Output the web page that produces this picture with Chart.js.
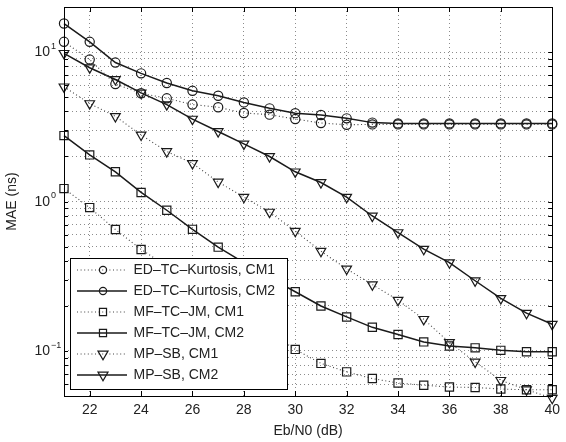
<!DOCTYPE html>
<html>
<head>
<meta charset="utf-8">
<script src="https://cdn.jsdelivr.net/npm/chart.js@4.4.0/dist/chart.umd.min.js"></script>
<style>
  html, body { margin: 0; padding: 0; background: #fff; }
  #wrap { width: 566px; height: 442px; }
</style>
</head>
<body>
<div id="wrap"><canvas id="chart" width="566" height="442"></canvas></div>
<script>
// Eb/N0 (dB)
const ebn0 = [21, 22, 23, 24, 25, 26, 27, 28, 29, 30, 31, 32, 33, 34, 35, 36, 37, 38, 39, 40];

// MAE (ns)
const edCM1 = [11.7, 8.9, 6.1, 5.3, 4.9, 4.45, 4.27, 3.91, 3.81, 3.56, 3.35, 3.26, 3.28, 3.28, 3.28, 3.28, 3.28, 3.28, 3.28, 3.28];
const edCM2 = [15.5, 11.7, 8.5, 7.2, 6.2, 5.5, 5.1, 4.6, 4.2, 3.9, 3.79, 3.6, 3.37, 3.33, 3.33, 3.33, 3.33, 3.33, 3.33, 3.33];
const mfCM1 = [1.22, 0.91, 0.65, 0.478, 0.37, 0.29, 0.225, 0.172, 0.133, 0.1025, 0.0826, 0.0725, 0.0654, 0.0611, 0.059, 0.0574, 0.057, 0.0557, 0.055, 0.055];
const mfCM2 = [2.76, 2.05, 1.58, 1.15, 0.874, 0.651, 0.495, 0.39, 0.31, 0.249, 0.2, 0.169, 0.144, 0.129, 0.115, 0.108, 0.105, 0.101, 0.0988, 0.0988];
const mpCM1 = [5.85, 4.52, 3.71, 2.79, 2.16, 1.8, 1.35, 1.07, 0.85, 0.634, 0.465, 0.354, 0.278, 0.219, 0.163, 0.114, 0.0846, 0.0637, 0.0551, 0.0484];
const mpCM2 = [9.8, 7.85, 6.55, 5.33, 4.45, 3.56, 2.94, 2.43, 2.0, 1.58, 1.34, 1.07, 0.8, 0.62, 0.48, 0.39, 0.295, 0.225, 0.179, 0.151];

const seriesNames = ['ED–TC–Kurtosis, CM1', 'ED–TC–Kurtosis, CM2', 'MF–TC–JM, CM1', 'MF–TC–JM, CM2', 'MP–SB, CM1', 'MP–SB, CM2'];

// ticks
const xTicks = [22, 24, 26, 28, 30, 32, 34, 36, 38, 40];
const yTicks = [0.05, 0.06, 0.07, 0.08, 0.09, 0.1, 0.2, 0.3, 0.4, 0.5, 0.6, 0.7, 0.8, 0.9,
  1, 2, 3, 4, 5, 6, 7, 8, 9, 10, 20];
const yLabelTicks = [0.1, 1, 10];
const yLabelExp = ['−1', '0', '1'];

const FONT = '"Liberation Sans", Arial, Helvetica, sans-serif';
const INK = '#1a1a1a';

function makeSet(label, values, style, dotted) {
  return {
    label: label,
    data: ebn0.map((x, i) => ({ x: x, y: values[i] })),
    borderColor: dotted ? '#444' : INK,
    borderWidth: dotted ? 1.1 : 1.5,
    borderDash: dotted ? [1, 2.6] : [],
    pointStyle: style === 'v' ? 'triangle' : style,
    rotation: style === 'v' ? 180 : 0,
    pointRadius: style === 'circle' ? 4.6 : (style === 'rect' ? 5.8 : 5.6),
    pointBorderColor: INK,
    pointBackgroundColor: 'rgba(0,0,0,0)',
    pointBorderWidth: 1.2,
    tension: 0,
    fill: false,
    clip: false
  };
}

// petit marqueur pour la légende
function drawMarker(ctx, style, x, y, r) {
  ctx.beginPath();
  if (style === 'circle') {
    ctx.arc(x, y, r, 0, Math.PI * 2);
  } else if (style === 'rect') {
    const s = r * Math.SQRT1_2;
    ctx.rect(x - s, y - s, 2 * s, 2 * s);
  } else {
    ctx.moveTo(x - r * 0.866, y - r / 2);
    ctx.lineTo(x + r * 0.866, y - r / 2);
    ctx.lineTo(x, y + r);
    ctx.closePath();
  }
  ctx.stroke();
}

const matlabAxes = {
  id: 'matlabAxes',
  afterDraw(chart) {
    const ctx = chart.ctx;
    const a = chart.chartArea;
    const xs = chart.scales.x;
    const ys = chart.scales.y;
    ctx.save();

    // cadre
    ctx.strokeStyle = '#000';
    ctx.lineWidth = 1;
    ctx.setLineDash([]);
    ctx.strokeRect(Math.round(a.left) + 0.5, Math.round(a.top) + 0.5,
      Math.round(a.right - a.left), Math.round(a.bottom - a.top));

    // graduations vers l'intérieur
    ctx.beginPath();
    xTicks.forEach(v => {
      const px = Math.round(xs.getPixelForValue(v)) + 0.5;
      ctx.moveTo(px, a.bottom); ctx.lineTo(px, a.bottom - 5);
      ctx.moveTo(px, a.top); ctx.lineTo(px, a.top + 5);
    });
    yTicks.forEach(v => {
      const py = Math.round(ys.getPixelForValue(v)) + 0.5;
      ctx.moveTo(a.left, py); ctx.lineTo(a.left + 4, py);
      ctx.moveTo(a.right, py); ctx.lineTo(a.right - 4, py);
    });
    ctx.stroke();

    // étiquettes 10^n
    ctx.fillStyle = '#222';
    yLabelTicks.forEach((v, i) => {
      const py = ys.getPixelForValue(v);
      ctx.font = '14px ' + FONT;
      ctx.textAlign = 'right';
      ctx.textBaseline = 'middle';
      ctx.fillText('10', 50, py + 0.5);
      ctx.font = '9px ' + FONT;
      ctx.textAlign = 'left';
      ctx.fillText(yLabelExp[i], 51, py - 5.5);
    });

    // légende
    const lx = 70.5, ly = 258.5, lw = 217, lh = 131;
    ctx.fillStyle = '#fff';
    ctx.fillRect(lx, ly, lw, lh);
    ctx.strokeStyle = '#000';
    ctx.lineWidth = 1;
    ctx.strokeRect(lx, ly, lw, lh);

    chart.data.datasets.forEach((ds, i) => {
      const ry = 270 + i * 21;
      ctx.strokeStyle = ds.borderColor;
      ctx.lineWidth = ds.borderWidth;
      ctx.setLineDash(ds.borderDash);
      ctx.beginPath();
      ctx.moveTo(77, ry); ctx.lineTo(127, ry);
      ctx.stroke();
      ctx.setLineDash([]);
      ctx.strokeStyle = INK;
      ctx.lineWidth = 1.2;
      const st = ds.pointStyle === 'triangle' ? 'v' : ds.pointStyle;
      drawMarker(ctx, st, 103, ry, st === 'circle' ? 3.6 : (st === 'rect' ? 5 : 5.8));
      ctx.fillStyle = '#222';
      ctx.font = '14px ' + FONT;
      ctx.textAlign = 'left';
      ctx.textBaseline = 'middle';
      ctx.fillText(ds.label, 133.5, ry + 0.5);
    });
    ctx.restore();
  }
};

const ctx = document.getElementById('chart').getContext('2d');
new Chart(ctx, {
  type: 'line',
  data: {
    datasets: [
      makeSet(seriesNames[0], edCM1, 'circle', true),
      makeSet(seriesNames[1], edCM2, 'circle', false),
      makeSet(seriesNames[2], mfCM1, 'rect', true),
      makeSet(seriesNames[3], mfCM2, 'rect', false),
      makeSet(seriesNames[4], mpCM1, 'v', true),
      makeSet(seriesNames[5], mpCM2, 'v', false)
    ]
  },
  options: {
    responsive: false,
    animation: false,
    devicePixelRatio: 1,
    layout: { padding: { left: 0, right: 8, top: 7, bottom: 0 } },
    plugins: { legend: { display: false }, tooltip: { enabled: false } },
    scales: {
      x: {
        type: 'linear',
        min: 21,
        max: 40,
        afterBuildTicks: s => { s.ticks = xTicks.map(v => ({ value: v })); },
        afterFit: s => { s.height = 46; },
        grid: { color: 'rgba(0,0,0,0.45)', lineWidth: 1, drawTicks: false },
        border: { display: false, dash: [1, 3] },
        ticks: { color: '#222', font: { family: FONT, size: 14 }, padding: 6, maxRotation: 0 },
        title: { display: true, text: 'Eb/N0 (dB)', color: '#222', font: { family: FONT, size: 14 }, padding: { top: 0, bottom: 2 } }
      },
      y: {
        type: 'logarithmic',
        min: 0.05,
        max: 20,
        afterBuildTicks: s => { s.ticks = yTicks.map(v => ({ value: v })); },
        afterFit: s => { s.width = 64; },
        grid: { color: 'rgba(0,0,0,0.45)', lineWidth: 1, drawTicks: false },
        border: { display: false, dash: [1, 3] },
        ticks: { display: false },
        title: { display: true, text: 'MAE (ns)', color: '#222', font: { family: FONT, size: 14 }, padding: { top: 3.5, bottom: 0 } }
      }
    }
  },
  plugins: [matlabAxes]
});
</script>
</body>
</html>
